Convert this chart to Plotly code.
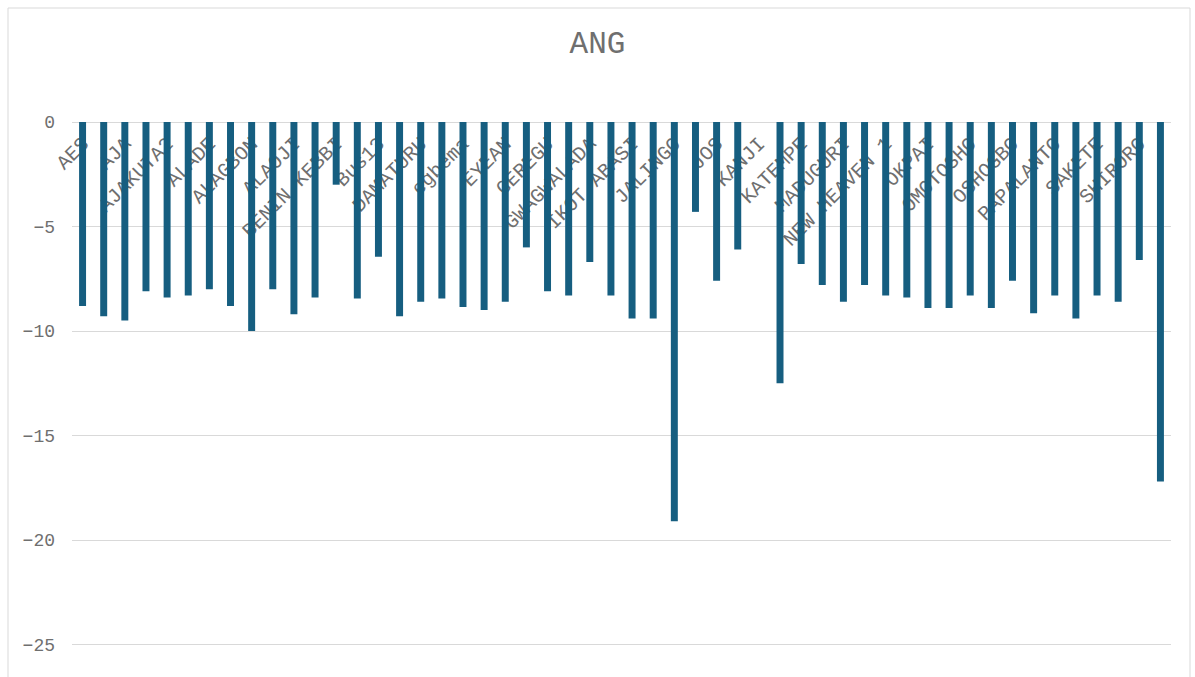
import plotly.graph_objects as go

# Stations (every second name is shown on the axis)
stations = [
    "AES", "AFAM", "AJA", "AJAKUTA1", "AJAKUTA2", "AKANGBA", "ALADE", "ALAGBADO",
    "ALAGBON", "ALAJA", "ALAOJI", "AYEDE", "BENIN KEBBI", "BENIN NORTH", "Bus13",
    "CALABAR", "DAMATURU", "DELTA", "egbema", "EKET", "EYEAN", "GANMO", "GEREGU",
    "GOMBE", "GWAGWALADA", "IKEJA WEST", "IKOT ABASI", "IKOT EKPENE", "JALINGO",
    "JEBBA", "JOS", "KADUNA", "KANJI", "KANO", "KATEMPE", "KUMBOTSO", "MADUGURI",
    "MAKURDI", "NEW HEAVEN 1", "ODUKPANI", "OKPAI", "OMOKU", "OMOTOSHO", "ONITSHA",
    "OSHOGBO", "OWERRI", "PAPALANTO", "SAPELE", "SAKETE", "SHIKA", "SHIRORO",
    "UGWUAJI",
]

# Angle per station
ang = [
    -8.8, -9.3, -9.5, -8.1, -8.4, -8.3, -8.0, -8.8, -10.0, -8.0, -9.2, -8.4, -3.0,
    -8.45, -6.45, -9.3, -8.6, -8.45, -8.85, -9.0, -8.6, -6.0, -8.1, -8.3, -6.7,
    -8.3, -9.4, -9.4, -19.1, -4.3, -7.6, -6.1, None, -12.5, -6.8, -7.8, -8.6,
    -7.8, -8.3, -8.4, -8.9, -8.9, -8.3, -8.9, -7.6, -9.15, -8.3, -9.4, -8.3,
    -8.6, -6.6, -17.2,
]

y_ticks = [0, -5, -10, -15, -20, -25]

FONT = "Courier New, Liberation Mono, Nimbus Mono PS, Courier, monospace"
GREY = "#6f6f6f"

fig = go.Figure(
    go.Bar(
        x=stations,
        y=ang,
        marker=dict(color="#165e80", line=dict(width=0)),
        hoverinfo="x+y",
    )
)

W, H = 1195, 677
left, right, top, bottom = 72, 24, 122, 0
pw, ph = W - left - right, H - top - bottom

def px_x(v):
    return (v - left) / pw

def px_y(v):
    return (H - bottom - v) / ph

# Outer chart frame
fig.add_shape(
    type="rect", xref="paper", yref="paper",
    x0=px_x(8), x1=px_x(1190), y0=px_y(700), y1=px_y(8),
    line=dict(color="#d9d9d9", width=1), fillcolor="rgba(0,0,0,0)", layer="below",
)

fig.update_layout(
    width=W,
    height=H,
    margin=dict(l=left, r=right, t=top, b=bottom, pad=0),
    paper_bgcolor="white",
    plot_bgcolor="white",
    bargap=0.67,
    showlegend=False,
    title=dict(
        text="ANG",
        x=0.5, xref="container", xanchor="center",
        y=1 - 42 / H, yref="container", yanchor="middle",
        font=dict(family=FONT, size=31, color=GREY),
    ),
    font=dict(family=FONT, color=GREY),
    xaxis=dict(
        type="category",
        anchor="free",
        position=1,
        side="bottom",
        layer="below traces",
        tickmode="linear",
        tick0=0,
        dtick=2,
        tickangle=-45,
        ticks="",
        ticklabelstandoff=5,
        showline=False,
        showgrid=False,
        tickfont=dict(family=FONT, size=20, color=GREY),
    ),
    yaxis=dict(
        range=[-(H - top - bottom) / 20.9, 0],
        tickvals=y_ticks,
        ticks="",
        ticklabelstandoff=16,
        showgrid=True,
        gridcolor="#d9d9d9",
        gridwidth=1,
        zeroline=True,
        zerolinecolor="#d9d9d9",
        zerolinewidth=1,
        showline=False,
        tickfont=dict(family=FONT, size=18, color=GREY),
    ),
)

fig.write_html("out.html")
